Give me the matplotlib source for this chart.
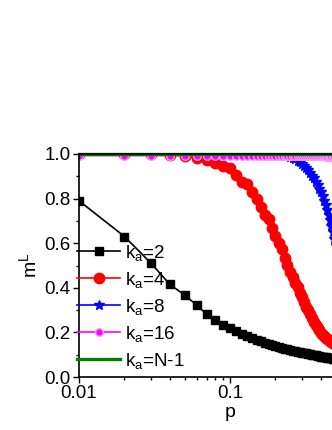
import matplotlib
matplotlib.use("Agg")
import matplotlib.pyplot as plt
from matplotlib.ticker import MultipleLocator, NullFormatter

plt.rcParams['font.family'] = ['Liberation Sans', 'DejaVu Sans']
plt.rcParams['mathtext.fontset'] = 'custom'
plt.rcParams['mathtext.rm'] = 'Liberation Sans'
plt.rcParams['mathtext.it'] = 'Liberation Sans'

## data
p = [0.01, 0.02, 0.03, 0.04, 0.05, 0.06, 0.07, 0.08, 0.09, 0.10,
     0.11, 0.12, 0.13, 0.14, 0.15, 0.16, 0.17, 0.18, 0.19, 0.20,
     0.21, 0.22, 0.23, 0.24, 0.25, 0.26, 0.27, 0.28, 0.29, 0.30,
     0.31, 0.32, 0.33, 0.34, 0.35, 0.36, 0.37, 0.38, 0.39, 0.40,
     0.41, 0.42, 0.43, 0.44, 0.45, 0.46, 0.47, 0.48, 0.49, 0.50]

m_k2 = [0.79, 0.63, 0.51, 0.415, 0.368, 0.323, 0.282, 0.256, 0.233, 0.218,
        0.205, 0.195, 0.185, 0.176, 0.168, 0.161, 0.155, 0.150, 0.145, 0.140,
        0.136, 0.132, 0.128, 0.125, 0.122, 0.119, 0.116, 0.114, 0.112, 0.110,
        0.108, 0.106, 0.104, 0.102, 0.100, 0.098, 0.097, 0.095, 0.094, 0.092,
        0.091, 0.090, 0.088, 0.087, 0.086, 0.085, 0.084, 0.083, 0.082, 0.081]

m_k4 = [1.0, 0.999, 0.998, 0.995, 0.991, 0.981, 0.973, 0.958, 0.946, 0.936,
        0.906, 0.876, 0.864, 0.831, 0.797, 0.761, 0.726, 0.707, 0.667, 0.632,
        0.600, 0.573, 0.532, 0.502, 0.472, 0.450, 0.423, 0.402, 0.378, 0.360,
        0.338, 0.315, 0.300, 0.283, 0.266, 0.248, 0.235, 0.222, 0.210, 0.198,
        0.190, 0.183, 0.176, 0.170, 0.165, 0.160, 0.156, 0.151, 0.147, 0.143]

m_k8 = [0.999, 0.999, 0.999, 0.999, 0.999, 0.999, 0.999, 0.999, 0.999, 0.999,
        0.999, 0.999, 0.999, 0.999, 0.999, 0.999, 0.999, 0.999, 0.998, 0.998,
        0.997, 0.995, 0.993, 0.990, 0.986, 0.981, 0.976, 0.970, 0.963, 0.955,
        0.946, 0.936, 0.926, 0.915, 0.903, 0.890, 0.876, 0.861, 0.845, 0.828,
        0.810, 0.790, 0.770, 0.750, 0.728, 0.703, 0.676, 0.648, 0.618, 0.587]

m_k16 = [0.993, 0.993, 0.993, 0.993, 0.993, 0.993, 0.993, 0.993, 0.993, 0.993,
         0.993, 0.993, 0.993, 0.993, 0.993, 0.993, 0.993, 0.993, 0.993, 0.993,
         0.993, 0.993, 0.993, 0.993, 0.993, 0.993, 0.993, 0.993, 0.993, 0.993,
         0.992, 0.992, 0.992, 0.991, 0.991, 0.991, 0.990, 0.990, 0.990, 0.989,
         0.989, 0.989, 0.988, 0.988, 0.988, 0.987, 0.987, 0.986, 0.986, 0.985]

m_full = [1.0] * len(p)

labels = [r'k$_\mathregular{a}$=2', r'k$_\mathregular{a}$=4', r'k$_\mathregular{a}$=8',
          r'k$_\mathregular{a}$=16', r'k$_\mathregular{a}$=N-1']

fig = plt.figure(figsize=(3.32, 4.30), dpi=100)
ax = fig.add_axes([0.238, 0.123, 0.9096, 0.519])

ax.plot(p, m_k2, '-s', color='black', ms=5.5, lw=1.2, label=labels[0])
ax.plot(p, m_k4, '-o', color='red', ms=7.5, lw=1.2, label=labels[1])
ax.plot(p, m_k8, '-*', color='blue', ms=7, lw=1.2, label=labels[2])
ax.plot(p, m_k16, '-o', color='magenta', ms=5.5, lw=1.2, mfc='magenta',
        markeredgecolor='#ff99ff', label=labels[3])
ax.plot(p, m_full, '-', color='green', lw=2.4, label=labels[4], clip_on=False)

ax.set_xscale('log')
ax.set_xlim(0.01, 1)
ax.set_ylim(0, 1.0)
ax.yaxis.set_minor_locator(MultipleLocator(0.1))
ax.set_yticks([0, 0.2, 0.4, 0.6, 0.8, 1.0])
ax.set_yticklabels(['0.0', '0.2', '0.4', '0.6', '0.8', '1.0'])
ax.set_xticks([0.01, 0.1])
ax.set_xticklabels(['0.01', '0.1'])
ax.xaxis.set_minor_formatter(NullFormatter())

ax.tick_params(axis='both', which='major', labelsize=13.5, length=4, width=1, pad=2)
ax.tick_params(axis='both', which='both', direction='out')
ax.tick_params(axis='both', which='minor', length=2, width=1)
for s in ax.spines.values():
    s.set_linewidth(1.2)

ax.set_xlabel('p', fontsize=14, labelpad=1)
ax.set_ylabel(r'm$^\mathregular{L}$', fontsize=14, labelpad=3)

ax.legend(loc='upper left', bbox_to_anchor=(0.232, 0.435), bbox_transform=fig.transFigure,
          frameon=False, fontsize=13.5, handlelength=2.3, handletextpad=0.25,
          labelspacing=0.37, borderpad=0, borderaxespad=0)

fig.savefig('out.png', dpi=100)
